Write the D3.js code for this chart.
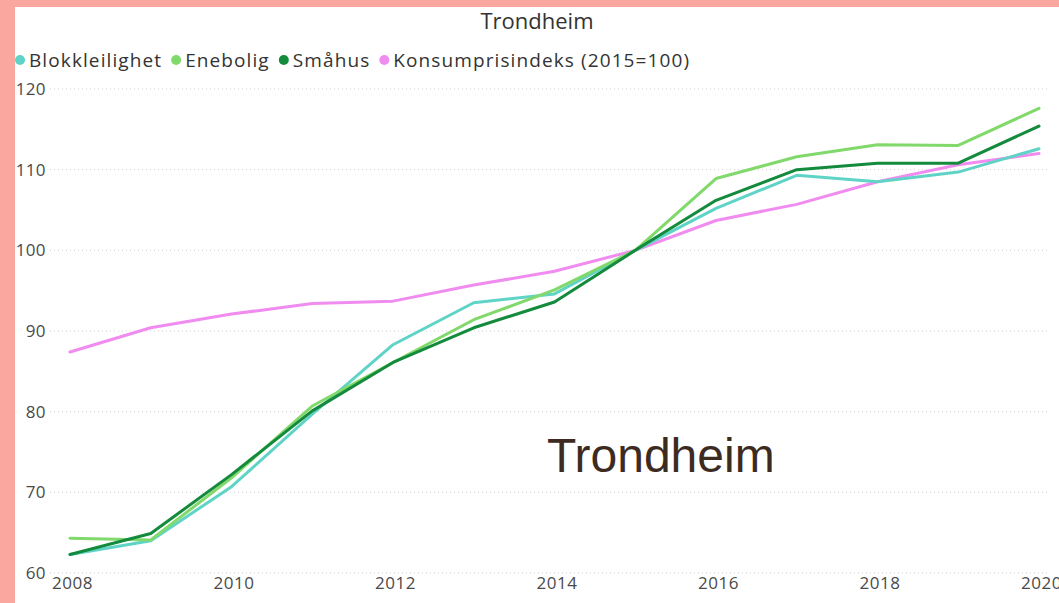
<!DOCTYPE html>
<html>
<head>
<meta charset="utf-8">
<script src="https://cdn.jsdelivr.net/npm/d3@7"></script>
<style>
  body { margin: 0; background: #fff; }
  svg { display: block; }
</style>
</head>
<body>
<script>
// data
var years = [2008, 2009, 2010, 2011, 2012, 2013, 2014, 2015, 2016, 2017, 2018, 2019, 2020];
var blokk = [62.3, 64.0, 70.7, 79.7, 88.3, 93.5, 94.6, 100, 105.2, 109.3, 108.5, 109.7, 112.6];
var enebolig = [64.3, 64.1, 71.8, 80.7, 86.1, 91.4, 95.1, 100, 108.9, 111.6, 113.1, 113.0, 117.6];
var smahus = [62.3, 64.9, 72.2, 80.1, 86.1, 90.4, 93.6, 100, 106.2, 110.0, 110.8, 110.8, 115.4];
var kpi = [87.4, 90.4, 92.1, 93.4, 93.7, 95.7, 97.4, 100, 103.7, 105.7, 108.5, 110.6, 112.0];
var seriesNames = ['Blokkleilighet', 'Enebolig', 'Småhus', 'Konsumprisindeks (2015=100)'];
var colors = ['#5fd4c6', '#80d96a', '#138a3c', '#f08cf0'];
var yTicks = [60, 70, 80, 90, 100, 110, 120];
var xTicks = [2008, 2010, 2012, 2014, 2016, 2018, 2020];

var W = 1059, H = 603;
var font = "'Open Sans', 'DejaVu Sans', sans-serif";

var svg = d3.select('body').append('svg')
    .attr('width', W)
    .attr('height', H);

svg.append('rect').attr('width', W).attr('height', H).attr('fill', '#fff');

var x = d3.scaleLinear().domain([2008, 2020]).range([70, 1039]);
var y = d3.scaleLinear().domain([60, 120]).range([573, 89]);

// gridlines
svg.append('g')
    .selectAll('line')
    .data(yTicks)
    .join('line')
    .attr('x1', 50)
    .attr('x2', 1048)
    .attr('y1', d => y(d))
    .attr('y2', d => y(d))
    .attr('stroke', '#cfcfcf')
    .attr('stroke-width', 1)
    .attr('stroke-dasharray', '1,3');

// y axis labels
var yAxis = d3.axisLeft(y).tickValues(yTicks).tickSize(0).tickPadding(0);
var gy = svg.append('g').attr('transform', 'translate(46,0)').call(yAxis);
gy.select('.domain').remove();
gy.selectAll('text')
    .attr('font-family', font)
    .attr('font-size', 17)
    .attr('letter-spacing', 0.4)
    .attr('fill', '#4a4a4a');

// x axis labels (2020 is clipped by the right edge, as in the original)
var xAxis = d3.axisBottom(x).tickValues(xTicks).tickFormat(d3.format('d')).tickSize(0).tickPadding(0);
var gx = svg.append('g').attr('transform', 'translate(2,0)').call(xAxis);
gx.select('.domain').remove();
gx.selectAll('text')
    .attr('dy', null)
    .attr('y', 589)
    .attr('font-family', font)
    .attr('font-size', 17)
    .attr('letter-spacing', 0.5)
    .attr('fill', '#4a4a4a');

// lines
var allSeries = [blokk, enebolig, smahus, kpi];
var line = d3.line()
    .x((d, i) => x(years[i]))
    .y(d => y(d));

var drawOrder = [3, 0, 1, 2];
svg.append('g')
    .selectAll('path')
    .data(drawOrder)
    .join('path')
    .attr('d', k => line(allSeries[k]))
    .attr('fill', 'none')
    .attr('stroke', k => colors[k])
    .attr('stroke-width', 3)
    .attr('stroke-linejoin', 'round')
    .attr('stroke-linecap', 'round');

// title
svg.append('text')
    .attr('x', 537)
    .attr('y', 29)
    .attr('text-anchor', 'middle')
    .attr('font-family', font)
    .attr('font-size', 22)
    .attr('fill', '#333')
    .text('Trondheim');

// legend
var lg = svg.append('g');
var lx = 20;
seriesNames.forEach(function(name, i) {
    lg.append('circle')
        .attr('cx', lx)
        .attr('cy', 60)
        .attr('r', 5)
        .attr('fill', colors[i]);
    var t = lg.append('text')
        .attr('x', lx + 9)
        .attr('y', 66.5)
        .attr('font-family', font)
        .attr('font-size', 19)
        .attr('letter-spacing', 1.1)
        .attr('fill', '#333')
        .text(name);
    lx += 9 + t.node().getComputedTextLength() + 14;
});

// big annotation
svg.append('text')
    .attr('x', 547)
    .attr('y', 472)
    .attr('font-family', "'Liberation Sans', Arial, sans-serif")
    .attr('font-size', 48)
    .attr('fill', '#3d2b22')
    .text('Trondheim');

// salmon frame
svg.append('rect').attr('x', 0).attr('y', 0).attr('width', W).attr('height', 7).attr('fill', '#faa89f');
svg.append('rect').attr('x', 0).attr('y', 0).attr('width', 15).attr('height', H).attr('fill', '#faa89f');
</script>
</body>
</html>
